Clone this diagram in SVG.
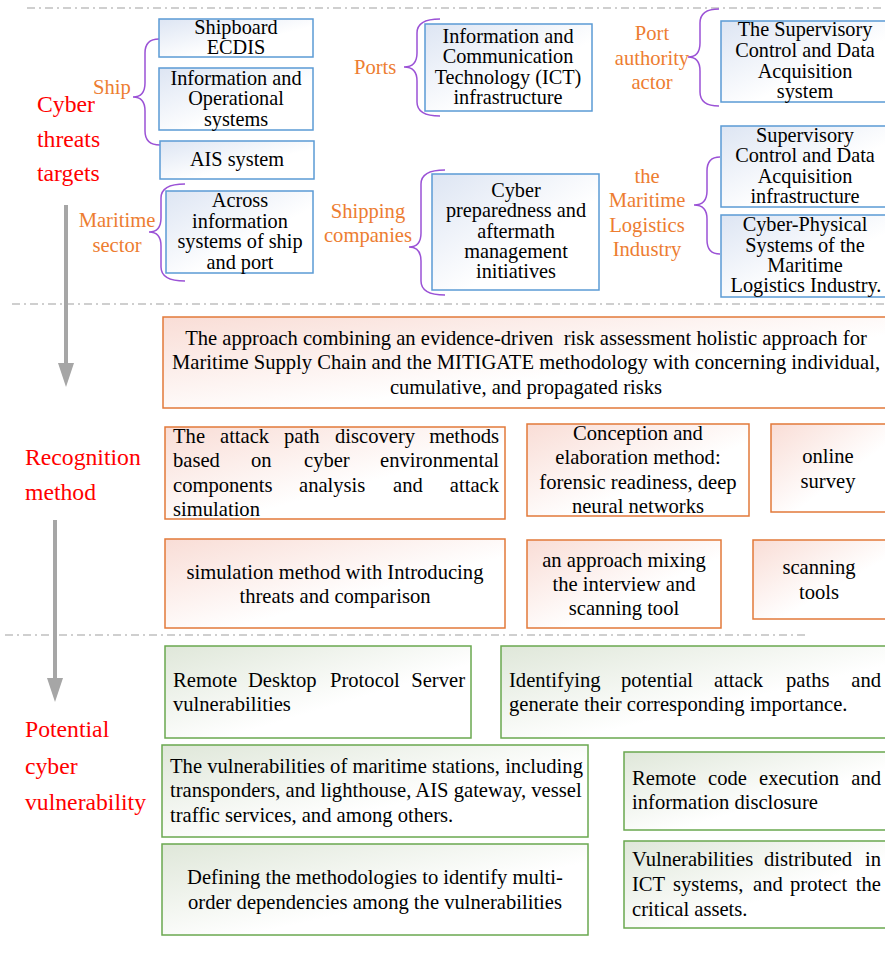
<svg xmlns="http://www.w3.org/2000/svg" width="885" height="954" viewBox="0 0 885 954">
<defs>
<linearGradient id="gB" x1="0" y1="0" x2="1" y2="1"><stop offset="0" stop-color="#dde5f3"/><stop offset="0.6" stop-color="#ffffff"/></linearGradient>
<linearGradient id="gO" x1="0" y1="0" x2="1" y2="1"><stop offset="0" stop-color="#f9ddd6"/><stop offset="0.6" stop-color="#ffffff"/></linearGradient>
<linearGradient id="gG" x1="0" y1="0" x2="1" y2="1"><stop offset="0" stop-color="#dfe7d9"/><stop offset="0.6" stop-color="#ffffff"/></linearGradient>
</defs>
<style>
text{font-family:"Liberation Serif","Times New Roman",serif;font-size:20.3px;fill:#000}
.c{text-anchor:middle}
.m{font-size:20.6px}
.red{fill:#ff0000;font-size:23.7px}
.or{fill:#ed7d31;font-size:20.6px}
.bb{fill:url(#gB);stroke:#5b9bd5;stroke-width:1.5}
.bo{fill:url(#gO);stroke:#e2793a;stroke-width:1.5}
.bg{fill:url(#gG);stroke:#6aa84f;stroke-width:1.5}
.sep{stroke:#a0a0a0;stroke-width:1.2;stroke-dasharray:8 4 2 4;fill:none}
.br{fill:none;stroke:#9b52d6;stroke-width:1.5}
.ar{stroke:#a6a6a6;stroke-width:4;fill:none}
.hd{fill:#a6a6a6}
</style>
<rect width="885" height="954" fill="#ffffff"/>

<g id="separators">
<line class="sep" x1="27" y1="8" x2="885" y2="8"/>
<line class="sep" x1="12" y1="304" x2="885" y2="304"/>
<line class="sep" x1="5" y1="635" x2="805" y2="635"/>
</g>

<g id="connectors">
<path class="br" d="M159,39 Q145,39 145,53 L145,83 Q145,97 133,97 Q145,97 145,111 L145,131 Q145,145 160,145"/>
<path class="br" d="M440,19 Q417,19 417,33 L417,53 Q417,67 404,67 Q417,67 417,81 L417,102 Q417,116 440,116"/>
<path class="br" d="M185,184 Q161,184 161,198 L161,218 Q161,232 149,232 Q161,232 161,246 L161,267 Q161,281 185,281"/>
<path class="br" d="M445,170 Q421,170 421,184 L421,233 Q421,247 409,247 Q421,247 421,261 L421,281 Q421,295 445,295"/>
<path class="br" d="M719,9 Q700,9 700,23 L700,43 Q700,57 688,57 Q700,57 700,71 L700,92 Q700,106 719,106"/>
<path class="br" d="M720,157 Q707,157 707,171 L707,191 Q707,205 694,205 Q707,205 707,219 L707,240 Q707,254 720,254"/>
<line class="ar" x1="66" y1="205" x2="66" y2="365"/>
<path class="hd" d="M58,363 L74,363 L66,387 Z"/>
<line class="ar" x1="55" y1="520" x2="55" y2="680"/>
<path class="hd" d="M47,678 L63,678 L55,702 Z"/>
</g>

<g id="labels">
<text class="red" x="37" y="112">Cyber</text>
<text class="red" x="37" y="147">threats</text>
<text class="red" x="37" y="181">targets</text>
<text class="or" x="93" y="94">Ship</text>
<text class="or c" x="117" y="227">Maritime</text>
<text class="or c" x="117" y="252">sector</text>
<text class="or" x="354" y="74">Ports</text>
<text class="or c" x="368" y="218">Shipping</text>
<text class="or c" x="368" y="242">companies</text>
<text class="or c" x="652" y="40">Port</text>
<text class="or c" x="652" y="65">authority</text>
<text class="or c" x="652" y="89">actor</text>
<text class="or c" x="647" y="183">the</text>
<text class="or c" x="647" y="207">Maritime</text>
<text class="or c" x="647" y="232">Logistics</text>
<text class="or c" x="647" y="256">Industry</text>
<text class="red" x="25" y="465">Recognition</text>
<text class="red" x="25" y="500">method</text>
<text class="red" x="25" y="737">Potential</text>
<text class="red" x="25" y="774">cyber</text>
<text class="red" x="25" y="810">vulnerability</text>
</g>

<g id="n-ecdis"><rect class="bb" x="159" y="19" width="154" height="38"/>
<text class="c" x="236" y="34">Shipboard</text><text class="c" x="236" y="54">ECDIS</text></g>
<g id="n-infoop"><rect class="bb" x="159" y="68" width="154" height="62"/>
<text class="c" x="236" y="85">Information and</text><text class="c" x="236" y="105">Operational</text><text class="c" x="236" y="126">systems</text></g>
<g id="n-ais"><rect class="bb" x="160" y="141" width="154" height="38"/>
<text class="c" x="237" y="166">AIS system</text></g>
<g id="n-across"><rect class="bb" x="166" y="191" width="147" height="82"/>
<text class="c" x="240" y="207">Across</text><text class="c" x="240" y="228">information</text><text class="c" x="240" y="248">systems of ship</text><text class="c" x="240" y="269">and port</text></g>
<g id="n-ict"><rect class="bb" x="425" y="24" width="167" height="87"/>
<text class="c" x="508" y="43">Information and</text><text class="c" x="508" y="63">Communication</text><text class="c" x="508" y="84">Technology (ICT)</text><text class="c" x="508" y="104">infrastructure</text></g>
<g id="n-prep"><rect class="bb" x="432" y="174" width="167" height="116"/>
<text class="c" x="516" y="197">Cyber</text><text class="c" x="516" y="217">preparedness and</text><text class="c" x="516" y="238">aftermath</text><text class="c" x="516" y="258">management</text><text class="c" x="516" y="278">initiatives</text></g>
<g id="n-scada1"><rect class="bb" x="721" y="21" width="170" height="81"/>
<text class="c" x="805" y="36">The Supervisory</text><text class="c" x="805" y="57">Control and Data</text><text class="c" x="805" y="78">Acquisition</text><text class="c" x="805" y="98">system</text></g>
<g id="n-scada2"><rect class="bb" x="721" y="126" width="170" height="81"/>
<text class="c" x="805" y="142">Supervisory</text><text class="c" x="805" y="162">Control and Data</text><text class="c" x="805" y="183">Acquisition</text><text class="c" x="805" y="203">infrastructure</text></g>
<g id="n-cps"><rect class="bb" x="721" y="215" width="170" height="82"/>
<text class="c" x="805" y="231">Cyber-Physical</text><text class="c" x="805" y="252">Systems of the</text><text class="c" x="805" y="272">Maritime</text><text class="c" x="806" y="292">Logistics Industry.</text></g>

<g id="n-approach"><rect class="bo" x="163" y="317" width="728" height="91"/>
<text class="c m" x="526" y="345" xml:space="preserve">The approach combining an evidence-driven  risk assessment holistic approach for</text>
<text class="c m" x="526" y="369">Maritime Supply Chain and the MITIGATE methodology with concerning individual,</text>
<text class="c m" x="526" y="394">cumulative, and propagated risks</text></g>
<g id="n-attack"><rect class="bo" x="165" y="427" width="340" height="92"/>
<text class="m" y="443"><tspan x="173">The</tspan><tspan x="220">attack</tspan><tspan x="284">path</tspan><tspan x="335">discovery</tspan><tspan x="499" text-anchor="end">methods</tspan></text>
<text class="m" y="467"><tspan x="173">based</tspan><tspan x="251">on</tspan><tspan x="304">cyber</tspan><tspan x="499" text-anchor="end">environmental</tspan></text>
<text class="m" y="492"><tspan x="173">components</tspan><tspan x="299">analysis</tspan><tspan x="393">and</tspan><tspan x="499" text-anchor="end">attack</tspan></text>
<text class="m" x="173" y="516">simulation</text></g>
<g id="n-conception"><rect class="bo" x="527" y="424" width="222" height="92"/>
<text class="c m" x="638" y="440">Conception and</text><text class="c m" x="638" y="464">elaboration method:</text><text class="c m" x="638" y="489">forensic readiness, deep</text><text class="c m" x="638" y="513">neural networks</text></g>
<g id="n-online"><rect class="bo" x="771" y="424" width="120" height="88"/>
<text class="c m" x="828" y="463">online</text><text class="c m" x="828" y="488">survey</text></g>
<g id="n-simulation"><rect class="bo" x="165" y="539" width="340" height="89"/>
<text class="c m" x="335" y="579">simulation method with Introducing</text><text class="c m" x="335" y="603">threats and comparison</text></g>
<g id="n-mixing"><rect class="bo" x="527" y="540" width="194" height="88"/>
<text class="c m" x="624" y="567">an approach mixing</text><text class="c m" x="624" y="591">the interview and</text><text class="c m" x="624" y="615">scanning tool</text></g>
<g id="n-scanning"><rect class="bo" x="753" y="540" width="138" height="79"/>
<text class="c m" x="819" y="574">scanning</text><text class="c m" x="819" y="599">tools</text></g>

<g id="n-rdp"><rect class="bg" x="165" y="646" width="306" height="92"/>
<text class="m" y="687"><tspan x="173">Remote</tspan><tspan x="248">Desktop</tspan><tspan x="330">Protocol</tspan><tspan x="465" text-anchor="end">Server</tspan></text>
<text class="m" x="173" y="711">vulnerabilities</text></g>
<g id="n-paths"><rect class="bg" x="501" y="646" width="390" height="92"/>
<text class="m" y="687"><tspan x="509">Identifying</tspan><tspan x="621">potential</tspan><tspan x="714">attack</tspan><tspan x="786">paths</tspan><tspan x="881" text-anchor="end">and</tspan></text>
<text class="m" x="509" y="711">generate their corresponding importance.</text></g>
<g id="n-stations"><rect class="bg" x="162" y="745" width="426" height="92"/>
<text class="m" x="170" y="773">The vulnerabilities of maritime stations, including</text>
<text class="m" x="170" y="797">transponders, and lighthouse, AIS gateway, vessel</text>
<text class="m" x="170" y="822">traffic services, and among others.</text></g>
<g id="n-rce"><rect class="bg" x="624" y="752" width="267" height="78"/>
<text class="m" y="785"><tspan x="632">Remote</tspan><tspan x="708">code</tspan><tspan x="759">execution</tspan><tspan x="881" text-anchor="end">and</tspan></text>
<text class="m" x="632" y="809">information disclosure</text></g>
<g id="n-defining"><rect class="bg" x="162" y="844" width="426" height="91"/>
<text class="c m" x="375" y="884">Defining the methodologies to identify multi-</text>
<text class="c m" x="375" y="909">order dependencies among the vulnerabilities</text></g>
<g id="n-ict-vuln"><rect class="bg" x="624" y="841" width="267" height="87"/>
<text class="m" y="866"><tspan x="632">Vulnerabilities</tspan><tspan x="764">distributed</tspan><tspan x="881" text-anchor="end">in</tspan></text>
<text class="m" y="891"><tspan x="632">ICT</tspan><tspan x="673">systems,</tspan><tspan x="753">and</tspan><tspan x="790">protect</tspan><tspan x="881" text-anchor="end">the</tspan></text>
<text class="m" x="632" y="916">critical assets.</text></g>
</svg>
